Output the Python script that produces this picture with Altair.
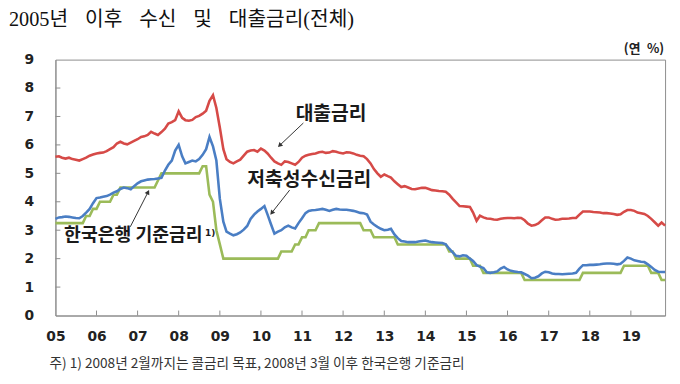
import altair as alt
import pandas as pd

# ---------------- data (monthly, 2005-01 .. 2019-11) ----------------
loan_rate = (
    [5.58, 5.60, 5.55, 5.52, 5.55, 5.50, 5.48, 5.45, 5.50, 5.55, 5.62, 5.66]
    + [5.70, 5.72, 5.73, 5.78, 5.85, 5.92, 6.05, 6.11, 6.05, 6.02, 6.08, 6.14]
    + [6.20, 6.28, 6.30, 6.35, 6.46, 6.40, 6.35, 6.45, 6.57, 6.75, 6.80, 6.87]
    + [7.18, 6.95, 6.87, 6.85, 6.88, 6.98, 7.02, 7.10, 7.20, 7.55, 7.75, 7.30]
    + [6.60, 5.85, 5.50, 5.40, 5.35, 5.42, 5.48, 5.62, 5.76, 5.80, 5.82, 5.76]
    + [5.87, 5.80, 5.70, 5.55, 5.42, 5.35, 5.30, 5.42, 5.40, 5.35, 5.30, 5.40]
    + [5.55, 5.62, 5.65, 5.68, 5.70, 5.74, 5.76, 5.72, 5.73, 5.78, 5.76, 5.72]
    + [5.70, 5.74, 5.73, 5.70, 5.65, 5.62, 5.60, 5.50, 5.35, 5.15, 5.00, 4.88]
    + [4.96, 4.90, 4.85, 4.72, 4.62, 4.52, 4.55, 4.50, 4.45, 4.44, 4.47, 4.49]
    + [4.49, 4.45, 4.41, 4.40, 4.38, 4.37, 4.35, 4.25, 4.10, 3.98, 3.85, 3.84]
    + [3.83, 3.82, 3.62, 3.33, 3.51, 3.45, 3.41, 3.40, 3.38, 3.37, 3.40, 3.42]
    + [3.43, 3.43, 3.42, 3.44, 3.43, 3.35, 3.23, 3.16, 3.18, 3.24, 3.35, 3.45]
    + [3.45, 3.40, 3.37, 3.38, 3.40, 3.40, 3.41, 3.43, 3.43, 3.55, 3.66, 3.66]
    + [3.66, 3.64, 3.63, 3.62, 3.60, 3.60, 3.59, 3.57, 3.54, 3.56, 3.65, 3.71]
    + [3.71, 3.68, 3.62, 3.60, 3.57, 3.50, 3.40, 3.28, 3.16, 3.27, 3.16]
)

deposit_rate = (
    [3.40, 3.45, 3.46, 3.48, 3.47, 3.45, 3.43, 3.42, 3.50, 3.62, 3.75, 3.95]
    + [4.13, 4.15, 4.18, 4.20, 4.25, 4.32, 4.37, 4.45, 4.50, 4.48, 4.44, 4.55]
    + [4.65, 4.72, 4.75, 4.78, 4.79, 4.80, 4.82, 4.84, 5.10, 5.30, 5.45, 5.80]
    + [6.00, 5.60, 5.35, 5.40, 5.45, 5.42, 5.50, 5.65, 5.85, 6.28, 5.95, 5.45]
    + [4.10, 3.30, 2.95, 2.88, 2.82, 2.86, 2.92, 3.02, 3.15, 3.40, 3.55, 3.66]
    + [3.75, 3.85, 3.55, 3.20, 2.88, 2.95, 3.00, 3.10, 3.16, 3.10, 3.06, 3.25]
    + [3.42, 3.60, 3.68, 3.70, 3.71, 3.73, 3.75, 3.72, 3.68, 3.72, 3.75, 3.73]
    + [3.72, 3.72, 3.70, 3.68, 3.65, 3.61, 3.60, 3.55, 3.30, 3.20, 3.12, 3.05]
    + [3.00, 3.02, 3.05, 2.85, 2.72, 2.62, 2.60, 2.58, 2.58, 2.58, 2.60, 2.62]
    + [2.64, 2.60, 2.58, 2.57, 2.56, 2.55, 2.50, 2.35, 2.22, 2.10, 2.08, 2.12]
    + [2.10, 2.00, 1.92, 1.77, 1.72, 1.67, 1.52, 1.50, 1.52, 1.55, 1.65, 1.71]
    + [1.62, 1.57, 1.55, 1.53, 1.52, 1.46, 1.40, 1.31, 1.33, 1.38, 1.48, 1.54]
    + [1.52, 1.48, 1.46, 1.46, 1.45, 1.46, 1.47, 1.48, 1.50, 1.65, 1.77, 1.77]
    + [1.78, 1.78, 1.79, 1.80, 1.82, 1.83, 1.83, 1.82, 1.80, 1.82, 1.92, 2.04]
    + [2.00, 1.94, 1.92, 1.89, 1.88, 1.80, 1.71, 1.60, 1.54, 1.53, 1.53]
)

base_rate = (
    [3.25] * 9 + [3.50, 3.50, 3.75]
    + [3.75, 4.00, 4.00, 4.00, 4.00, 4.25, 4.25, 4.50, 4.50, 4.50, 4.50, 4.50]
    + [4.50] * 6 + [4.75] + [5.00] * 5
    + [5.00] * 7 + [5.25, 5.25, 4.25, 4.00, 3.00]
    + [2.50] + [2.00] * 11
    + [2.00] * 6 + [2.25] * 4 + [2.50, 2.50]
    + [2.75, 2.75, 3.00, 3.00, 3.00] + [3.25] * 7
    + [3.25] * 6 + [3.00] * 3 + [2.75] * 3
    + [2.75] * 4 + [2.50] * 8
    + [2.50] * 7 + [2.25, 2.25] + [2.00] * 3
    + [2.00, 2.00, 1.75, 1.75, 1.75] + [1.50] * 7
    + [1.50] * 5 + [1.25] * 7
    + [1.25] * 10 + [1.50, 1.50]
    + [1.50] * 10 + [1.75, 1.75]
    + [1.75] * 6 + [1.50, 1.50, 1.50, 1.25, 1.25]
)

dates = pd.date_range("2005-01-01", periods=len(loan_rate), freq="MS").strftime("%Y-%m-%dT00:00:00").tolist()
years = list(range(2005, 2020))
y_ticks = list(range(0, 10))

series_names = ["대출금리", "저축성수신금리", "한국은행 기준금리"]
series_colors = ["#D64A47", "#4A7EC4", "#9BBB59"]

title_text = "2005년\u2002\u2004이후\u2002\u2004수신\u2002\u2004및\u2002\u2004대출금리(전체)"
unit_text = "(연\u2002%)"
note_text = "주) 1) 2008년 2월까지는 콜금리 목표, 2008년 3월 이후 한국은행 기준금리"

# annotation labels in data space
ann_dates = ["2011-09-16T00:00:00", "2011-03-07T00:00:00", "2005-03-19T00:00:00"]
ann_vals = [7.10, 4.76, 2.84]

arrow_from_dates = ["2011-01-13T00:00:00", "2010-09-13T00:00:00", "2006-10-28T00:00:00"]
arrow_from_vals = [6.77, 4.41, 3.12]
arrow_to_dates = ["2010-06-16T00:00:00", "2010-04-07T00:00:00", "2007-04-04T00:00:00"]
arrow_to_vals = [5.98, 3.61, 4.34]
arrow_angles = [226, 218, 27]

# ---------------- build tables ----------------
long_rows = []
for name, vals in zip(series_names, [loan_rate, deposit_rate, base_rate]):
    for d, v in zip(dates, vals):
        long_rows.append({"date": d, "series": name, "rate": v})
df = pd.DataFrame(long_rows)

x_scale = alt.Scale(domain=[alt.DateTime(year=2005, month=1, date=1),
                            alt.DateTime(year=2019, month=11, date=1)], nice=False)
y_scale = alt.Scale(domain=[0, 9], nice=False)
color_scale = alt.Scale(domain=series_names, range=series_colors)

label_style = dict(labelFont="DejaVu Sans", labelFontSize=14, labelFontWeight="bold",
                   labelColor="#222222", tickSize=0, ticks=False, domainColor="#8c8c8c", grid=False,
                   title=None, labelOverlap=False)

x_axis = alt.Axis(values=[alt.DateTime(year=y, month=1, date=1) for y in years], format="%y",
                  labelPadding=14, labelFlush=False, **label_style)
y_axis = alt.Axis(values=y_ticks, format="d", labelPadding=22, **label_style)


def X(field):
    return alt.X(field, scale=x_scale, axis=x_axis)


def Y(field):
    return alt.Y(field, scale=y_scale, axis=y_axis)


def line_layer(name):
    return (alt.Chart(df).transform_filter(alt.datum.series == name)
            .mark_line(strokeWidth=2.6, interpolate="linear")
            .encode(x=X("date:T"), y=Y("rate:Q"),
                    color=alt.Color("series:N", scale=color_scale, legend=None)))


lines = [line_layer(series_names[2]), line_layer(series_names[1]), line_layer(series_names[0])]

xtick_df = pd.DataFrame({"date": [f"{y}-01-01T00:00:00" for y in years[1:]]})
xticks = alt.Chart(xtick_df).mark_rule(color="#8c8c8c", strokeWidth=1).encode(
    x=X("date:T"), y=alt.value(259), y2=alt.value(254))

ytick_df = pd.DataFrame({"v": y_ticks[1:-1]})
yticks = alt.Chart(ytick_df).mark_rule(color="#8c8c8c", strokeWidth=1).encode(
    y=Y("v:Q"), x=alt.value(0), x2=alt.value(5))

ann_df = pd.DataFrame({"date": ann_dates, "v": ann_vals, "label": series_names})
ann_center = alt.Chart(ann_df.iloc[:2]).mark_text(
    font="Noto Sans CJK KR", fontSize=19.5, fontWeight="bold", color="#1a1a1a",
    align="center", baseline="middle").encode(x=X("date:T"), y=Y("v:Q"), text="label:N")
ann_left = alt.Chart(ann_df.iloc[2:]).mark_text(
    font="Noto Sans CJK KR", fontSize=18.5, fontWeight="bold", color="#1a1a1a",
    align="left", baseline="middle").encode(x=X("date:T"), y=Y("v:Q"), text="label:N")
sup_df = pd.DataFrame({"date": ["2008-08-22T00:00:00"], "v": [2.90], "label": ["1)"]})
ann_sup = alt.Chart(sup_df).mark_text(
    font="DejaVu Sans", fontSize=9, fontWeight="bold", color="#1a1a1a",
    align="left", baseline="middle").encode(x=X("date:T"), y=Y("v:Q"), text="label:N")

arrow_df = pd.DataFrame({"d1": arrow_from_dates, "v1": arrow_from_vals,
                         "d2": arrow_to_dates, "v2": arrow_to_vals, "ang": arrow_angles})
arrow_shaft = alt.Chart(arrow_df).mark_rule(color="#333333", strokeWidth=1).encode(
    x=X("d1:T"), y=Y("v1:Q"), x2="d2:T", y2="v2:Q")
arrow_head = alt.Chart(arrow_df).mark_point(shape="triangle-up", filled=True, color="#333333",
                                            size=28, opacity=1).encode(
    x=X("d2:T"), y=Y("v2:Q"), angle=alt.Angle("ang:Q", scale=None))

title_mark = alt.Chart(pd.DataFrame({"t": [title_text]})).mark_text(
    font="Liberation Serif, Noto Sans CJK KR", fontSize=20.5, color="#111111",
    align="left", baseline="middle").encode(text="t:N", x=alt.value(-47), y=alt.value(-40.5))
unit_mark = alt.Chart(pd.DataFrame({"t": [unit_text]})).mark_text(
    font="Noto Sans CJK KR", fontSize=13, fontWeight="bold", color="#222222",
    align="right", baseline="middle").encode(text="t:N", x=alt.value(616), y=alt.value(-11))
note_mark = alt.Chart(pd.DataFrame({"t": [note_text]})).mark_text(
    font="Noto Sans CJK KR", fontSize=13.8, color="#333333",
    align="left", baseline="middle").encode(text="t:N", x=alt.value(-6), y=alt.value(308))

chart = alt.layer(
    *lines, xticks, yticks, arrow_shaft, arrow_head, ann_center, ann_left, ann_sup,
    title_mark, unit_mark, note_mark
).properties(
    width=617, height=259,
    padding={"left": 48, "top": 50, "right": 7, "bottom": 60},
    autosize=alt.AutoSizeParams(type="none"),
    background="white",
).configure_view(stroke="#8c8c8c", strokeWidth=1)

chart.save("out.html", embed_options={"renderer": "svg", "actions": False})
